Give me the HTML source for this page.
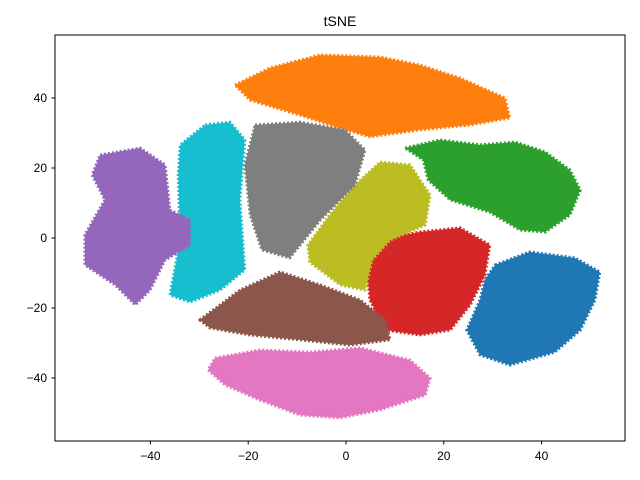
<!DOCTYPE html>
<html><head><meta charset="utf-8"><style>
body{margin:0;background:#fff;}
svg{display:block;font-family:"Liberation Sans","DejaVu Sans",sans-serif;}
</style></head><body>
<svg id="chart" width="640" height="480">
<rect x="0" y="0" width="640" height="480" fill="#fff"/>
<text x="340" y="26" text-anchor="middle" font-size="14">tSNE</text>
<g id="clusters"></g>
<rect x="55" y="35" width="570" height="406" fill="none" stroke="#000" stroke-width="1"/>
<g id="axes"></g>
</svg>
<script>
const xTicks=[-40,-20,0,20,40];
const yTicks=[-40,-20,0,20,40];
const clusterNames=['orange','green','blue','red','olive','gray','cyan','purple','brown','pink'];
const clusterColors=['#ff7f0e','#2ca02c','#1f77b4','#d62728','#bcbd22','#7f7f7f','#17becf','#9467bd','#8c564b','#e377c2'];
const orangeX=[-22.7,-15.5,-5.3,7,15.1,23.3,32.5,33.5,25.4,15.1,4.9,-1.2,-9.4,-19.6];
const orangeY=[43.7,48.6,52.3,51.7,49.4,45.7,40,34.3,32.3,30.9,28.9,31.4,35.1,39.4];
const greenX=[12.1,19.2,27.4,34.6,40.7,45.8,47.9,45.8,40.7,35.6,29.4,21.3,16.8,15.8];
const greenY=[25.7,28,26.6,27.4,24.6,19.4,13.7,6.6,1.7,2.3,7.4,10.9,16.6,22.3];
const blueX=[30.5,37.6,46.8,51.9,50.9,47.9,42.7,33.5,27.4,24.7,27.4,28.4];
const blueY=[-7.7,-4,-5.7,-9.7,-17.7,-26.3,-32.6,-36.3,-33.4,-26.3,-17.7,-12];
const redX=[7,15.1,23.3,29.4,28.4,25.4,21.3,15.1,8,4.9,4.3];
const redY=[-0.6,1.7,2.9,-2,-10.6,-19.1,-26.3,-27.7,-26.3,-17.7,-9.1];
const oliveX=[7,13.1,17.2,16.2,9,5.3,3.9,-1.2,-7.4,-7.8,-3.3,1.8];
const oliveY=[21.7,20.9,12.3,3.7,-0.6,-6.3,-14.9,-13.4,-6.9,-2,6.6,15.1];
const grayX=[-18.6,-9.4,-0.2,3.9,1.8,-5.3,-11.5,-17.2,-19.6,-20.7];
const grayY=[32.3,33.1,30.9,25.1,15.1,5.1,-5.7,-3.4,6.6,20.9];
const cyanX=[-28.8,-23.7,-20.7,-21.7,-20.7,-25.8,-31.9,-36,-33.9,-34.3,-33.9];
const cyanY=[32.3,33.1,28,10.9,-9.1,-14.9,-18.3,-16.3,-0.6,18,26.6];
const purpleX=[-50.3,-42.1,-37,-36,-31.9,-31.9,-37,-40.1,-43.1,-47.2,-53.4,-53.4,-49.3,-51.9];
const purpleY=[23.7,25.7,20.9,8,5.1,-2,-6.3,-14.9,-19.1,-13.4,-7.7,0.9,10.9,18];
const brownX=[-29.9,-21.7,-13.5,-5.3,2.9,8,9,0.8,-9.4,-19.6,-27.8];
const brownY=[-23.4,-14.9,-9.7,-13.4,-17.7,-23.4,-29.1,-30.6,-29.1,-27.7,-25.7];
const pinkX=[-26.8,-17.6,-7.4,2.9,13.1,17.2,16.2,7,-1.2,-9.4,-17.6,-24.7,-28.2];
const pinkY=[-34.3,-32,-32.6,-31.4,-34.9,-40,-44.9,-49.1,-51.4,-50.6,-46.3,-42,-37.7];
const clusterXs=[orangeX,greenX,blueX,redX,oliveX,grayX,cyanX,purpleX,brownX,pinkX];
const clusterYs=[orangeY,greenY,blueY,redY,oliveY,grayY,cyanY,purpleY,brownY,pinkY];

const NS='http://www.w3.org/2000/svg';
const sx=v=>346+v*4.89;
const sy=v=>238-v*3.5;
const cg=document.getElementById('clusters');
const ax=document.getElementById('axes');
clusterXs.forEach((xs,i)=>{
  const ys=clusterYs[i];
  const p=document.createElementNS(NS,'polygon');
  p.setAttribute('points',xs.map((x,j)=>sx(x)+','+sy(ys[j])).join(' '));
  p.setAttribute('fill',clusterColors[i]);
  p.setAttribute('stroke',clusterColors[i]);
  p.setAttribute('stroke-width','3');
  p.setAttribute('stroke-dasharray','2 2');
  p.setAttribute('stroke-linejoin','round');
  
  
  cg.appendChild(p);
});
xTicks.forEach(t=>{
  const x=sx(t);
  const l=document.createElementNS(NS,'line');
  l.setAttribute('x1',x);l.setAttribute('x2',x);l.setAttribute('y1',441);l.setAttribute('y2',444.5);
  l.setAttribute('stroke','#000');
  
  
  ax.appendChild(l);
  const tx=document.createElementNS(NS,'text');
  tx.setAttribute('x',x);tx.setAttribute('y',460);tx.setAttribute('text-anchor','middle');tx.setAttribute('font-size','12');
  tx.textContent=t<0?'\u2212'+(-t):String(t);
  
  
  ax.appendChild(tx);
});
yTicks.forEach(t=>{
  const y=sy(t);
  const l=document.createElementNS(NS,'line');
  l.setAttribute('x1',51.5);l.setAttribute('x2',55);l.setAttribute('y1',y);l.setAttribute('y2',y);
  l.setAttribute('stroke','#000');
  
  
  ax.appendChild(l);
  const tx=document.createElementNS(NS,'text');
  tx.setAttribute('x',47);tx.setAttribute('y',y+4);tx.setAttribute('text-anchor','end');tx.setAttribute('font-size','12');
  tx.textContent=t<0?'\u2212'+(-t):String(t);
  
  
  ax.appendChild(tx);
});
</script>
</body></html>
